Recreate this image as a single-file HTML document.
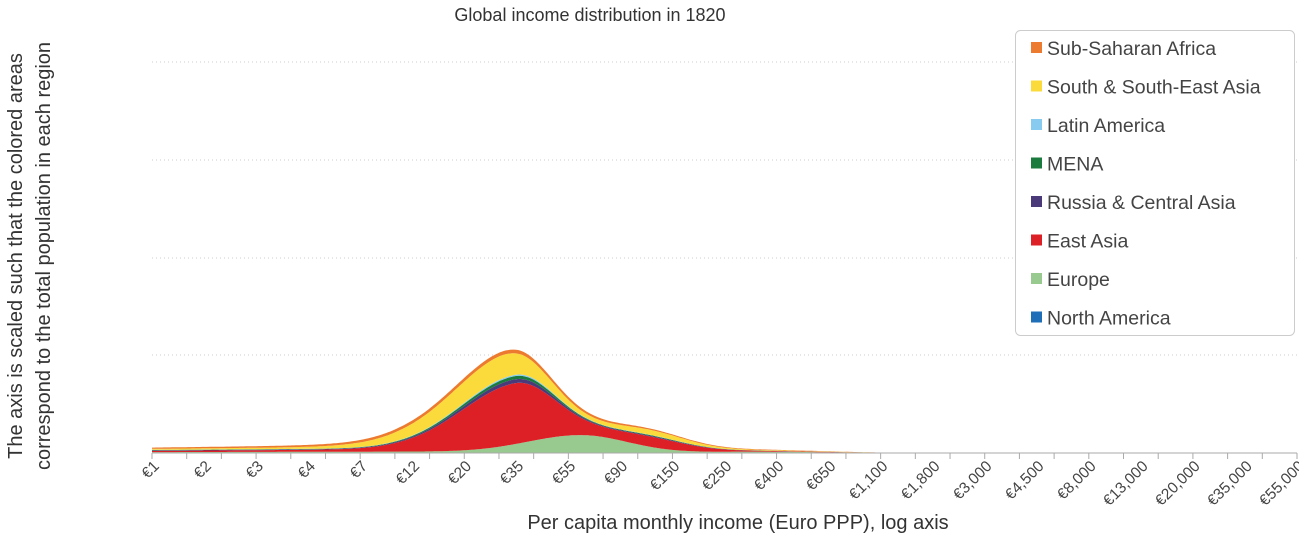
<!DOCTYPE html>
<html><head><meta charset="utf-8"><style>
body{margin:0;background:#fff;}
svg{display:block;font-family:"Liberation Sans",sans-serif;}
</style></head><body>
<svg id="s" width="1299" height="539" viewBox="0 0 1299 539">
<text x="590" y="21" font-size="18" fill="#333" text-anchor="middle">Global income distribution in 1820</text>
<g stroke="#ccc" stroke-dasharray="1,3" stroke-width="1">
<line x1="152" y1="62" x2="1297" y2="62"/><line x1="152" y1="160" x2="1297" y2="160"/>
<line x1="152" y1="258" x2="1297" y2="258"/><line x1="152" y1="355" x2="1297" y2="355"/>
</g>
<g id="areas"></g>
<g id="axis"></g>
<text transform="translate(22,256) rotate(-90)" font-size="20" fill="#333" text-anchor="middle">The axis is scaled such that the colored areas</text>
<text transform="translate(50,256) rotate(-90)" font-size="20" fill="#333" text-anchor="middle">correspond to the total population in each region</text>
<text x="738" y="529" font-size="20" fill="#333" text-anchor="middle">Per capita monthly income (Euro PPP), log axis</text>
<rect x="1015.5" y="30.5" width="279" height="305" rx="5" fill="#fff" stroke="#ccc"/>
<g font-size="19.5" fill="#444" id="leg"></g>
</svg>
<script>
(function(){
var B=453;
function g(x,c,wl,wr){var w=x<c?wl:wr;var d=(x-c)/w;return Math.exp(-d*d);}
function tl(x){return x<400?1+(x-152)/250:Math.max(0,2-(x-400)/250);}
function far(x){return Math.max(0,1-(x-400)/500);}
function layers(x){
 var E=17*g(x,581,75,65)+0.6*tl(x)+1*g(x,760,60,80);
 var NA=0.2*far(x);
 var R=59*g(x,515,80,55)+9*g(x,650,55,55)+1.2*tl(x);
 var P=0.06*R+0.3*far(x);
 var G=0.05*R+0.2*far(x);
 var LB=0.02*R+0.1*far(x);
 var Y=22*g(x,497,95,58)+4*g(x,650,55,55)+1*tl(x);
 var O=0.8*tl(x)+2.2*g(x,508,130,100)+0.3*far(x);
 return [NA,E,R,P,G,LB,Y,O];
}
var cols=["#1f6fb8","#98c98e","#dc2026","#4a3a7a","#1b7a3e","#87ccf0","#fbdb3c","#ec7a2f"];
var xs=[];for(var x=152;x<=1297;x+=2)xs.push(x);
var cum=xs.map(function(){return 0;});
var s="";
for(var k=0;k<8;k++){
 var up=[],dn=[];
 for(var i=0;i<xs.length;i++){var xx=xs[i];var l=layers(xx);var b=cum[i];var t=b+l[k];dn.push(xx+","+(B-b).toFixed(1));up.push(xx+","+(B-t).toFixed(1));cum[i]=t;}
 s+='<polygon fill="'+cols[k]+'" points="'+up.join(" ")+" "+dn.reverse().join(" ")+'"/>';
}
document.getElementById("areas").innerHTML=s;
var ax='<line x1="152" y1="453" x2="1297" y2="453" stroke="#aaa"/>';
for(var j=0;j<=33;j++){var tx=152+j*1145/33;ax+='<line x1="'+tx+'" y1="453" x2="'+tx+'" y2="459" stroke="#aaa"/>';}
var labs=["€1","€2","€3","€4","€7","€12","€20","€35","€55","€90","€150","€250","€400","€650","€1,100","€1,800","€3,000","€4,500","€8,000","€13,000","€20,000","€35,000","€55,000"];
for(var m=0;m<labs.length;m++){var lx=160+m*1145/22;ax+='<text transform="translate('+lx+',467) rotate(-45)" font-size="15.5" fill="#444" text-anchor="end">'+labs[m]+'</text>';}
document.getElementById("axis").innerHTML=ax;
var names=["Sub-Saharan Africa","South &amp; South-East Asia","Latin America","MENA","Russia &amp; Central Asia","East Asia","Europe","North America"];
var lc=["#ec7a2f","#fbdb3c","#87ccf0","#1b7a3e","#4a3a7a","#dc2026","#98c98e","#1f6fb8"];
var lg="";for(var n=0;n<names.length;n++){var y=48+n*38.5;lg+='<rect x="1031" y="'+(y-6)+'" width="11" height="11" fill="'+lc[n]+'"/><text x="1047" y="'+(y+7)+'">'+names[n]+'</text>';}
document.getElementById("leg").innerHTML=lg;
})();
</script>
</body></html>
